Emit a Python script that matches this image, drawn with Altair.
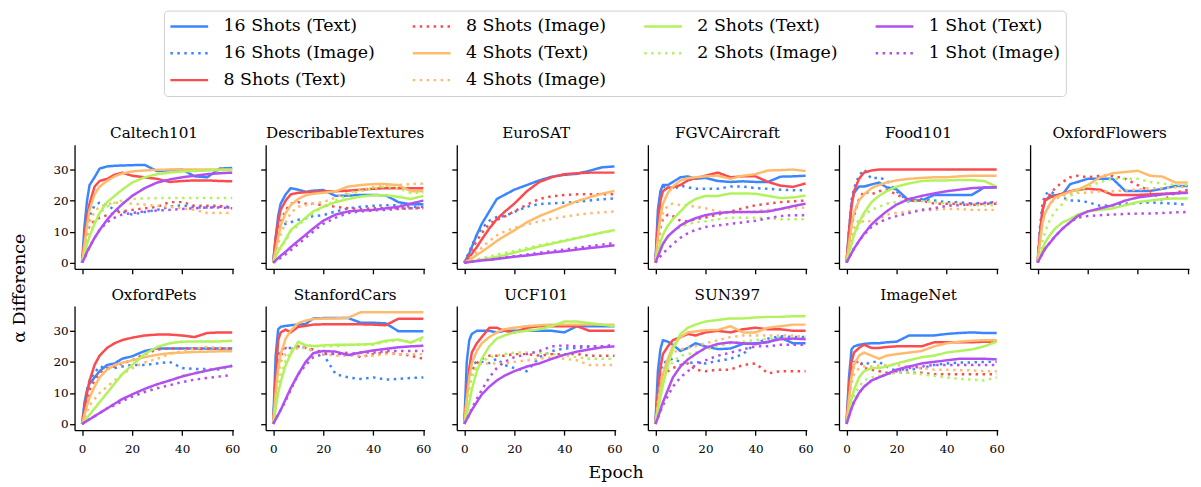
import altair as alt
import pandas as pd

EPOCHS = [0, 1, 2, 3, 5, 7, 10, 13, 16, 20, 25, 30, 35, 40, 45, 50, 55, 60]

SERIES = ["16 Shots (Text)", "16 Shots (Image)", "8 Shots (Text)", "8 Shots (Image)",
          "4 Shots (Text)", "4 Shots (Image)", "2 Shots (Text)", "2 Shots (Image)",
          "1 Shot (Text)", "1 Shot (Image)"]
# order fed to the legend so that its grid reads column-major like the original
LEGEND_ORDER = [SERIES[i] for i in [0, 1, 9, 3, 4, 2, 6, 7, 5, 8]]

SHOT_COLORS = {"16": "#3a86ff", "8": "#fb4b4e", "4": "#ffbb6c", "2": "#b2f35b", "1": "#b24ef2"}

# series order: 16T, 16I, 8T, 8I, 4T, 4I, 2T, 2I, 1T, 1I
CALTECH101 = [
    [0, 12, 20, 25, 27.5, 30.3, 31, 31.2, 31.3, 31.4, 31.5, 29.5, 29.8, 30, 27.8, 27.5, 30.3, 30.5],
    [0, 6, 11, 15, 18.5, 19.3, 18.5, 17, 16.5, 15.5, 16.3, 17, 18, 18.5, 17.8, 17.8, 18, 18],
    [0, 8, 15, 19, 24.5, 26.3, 27, 28.3, 29, 28, 27.5, 27, 26, 26.3, 26.5, 26.5, 26.3, 26.2],
    [0, 5, 9, 12, 13.5, 14.5, 15.3, 16, 16.5, 17, 17.5, 18, 19.5, 19.5, 18.3, 18.3, 18.3, 17.5],
    [0, 6, 12, 17, 22, 24.5, 26.3, 27.8, 28.7, 29.4, 29.7, 29.9, 30, 30, 30, 30, 30, 30],
    [0, 5, 10, 13, 16.5, 18, 18.8, 19.3, 19.3, 19, 18.7, 18.3, 18, 17.5, 17, 16, 16, 16],
    [0, 3, 6, 8.5, 12.5, 16, 19.5, 21.5, 23.5, 25.8, 27.5, 28.5, 29, 29.4, 29.5, 29.7, 29.8, 29.9],
    [0, 3, 6, 9, 13, 16, 18, 19.3, 20, 20.5, 20.7, 20.8, 20.8, 20.8, 20.8, 20.8, 20.8, 20.8],
    [0, 1.5, 3.5, 5, 8, 10.5, 13.8, 16.5, 18.8, 21.5, 24, 25.8, 26.8, 27.5, 28, 28.5, 28.8, 29],
    [0, 1.5, 3.5, 5, 8, 10.5, 13, 14.5, 15.5, 16, 16.5, 16.8, 17, 17.3, 17.5, 17.8, 17.8, 17.5],
]
DESCRIBABLE_TEXTURES = [
    [0, 8, 15, 19, 22, 24, 23.5, 22.8, 23.2, 23.4, 21.5, 21.6, 21.8, 21.8, 21.7, 19.5, 18.8, 18.8],
    [0, 5, 9, 12, 12.5, 13, 13.8, 14.3, 15, 15.3, 16.5, 17.5, 18, 18.3, 18.5, 18.5, 18, 18],
    [0, 8, 13, 17, 20, 22, 22.5, 22.7, 22.8, 23, 23, 23.2, 23.5, 23.8, 24, 24, 24, 24],
    [0, 5, 10, 13, 17, 19, 19.5, 19, 19, 18.5, 18, 17.5, 17.3, 17.5, 17.5, 17.5, 17.5, 17.5],
    [0, 4, 8, 12, 16, 18.5, 20.5, 21.7, 22.2, 22.5, 23, 24.5, 25, 25.3, 25.3, 25, 23, 23],
    [0, 3, 6, 9, 13, 16, 18, 18.5, 19, 19.5, 21, 22.5, 23.5, 24.3, 24.8, 25, 25.3, 25.5],
    [0, 2, 3.5, 5, 7.5, 10.5, 12.5, 14.5, 16.5, 18, 19.5, 20.5, 21.3, 21.7, 21.7, 21.2, 20.5, 21.5],
    [0, 2, 3.5, 5, 7, 10, 12, 14, 16, 18, 20, 22, 23, 24, 24.5, 24, 22.5, 22.5],
    [0, 0.7, 1.5, 2.2, 3.5, 5, 7, 9, 11, 13.5, 15.5, 16.5, 16.8, 17, 17.5, 18, 19, 20],
    [0, 0.5, 1, 1.5, 2.7, 4, 6, 8, 10, 12.5, 14.5, 16, 16.5, 16.8, 17, 17.3, 17.5, 17.8],
]
EUROSAT = [
    [0, 1.5, 3, 5, 9, 12.5, 16.5, 20.5, 21.8, 23.5, 25, 26.5, 27.7, 28.3, 28.6, 29.6, 30.7, 31],
    [0, 1.8, 3.6, 5.4, 9, 11, 13.5, 14.7, 15, 16.3, 18, 18.9, 19.1, 19.3, 19.6, 20, 20.4, 20.7],
    [0, 0.8, 1.8, 2.8, 5, 7.5, 11, 14, 16.3, 19, 23, 26, 27.5, 28.5, 28.8, 29, 29, 29],
    [0, 1.4, 2.8, 4.2, 7, 9.5, 12.5, 13.8, 14.8, 16.5, 18.7, 20.5, 21.4, 21.8, 22, 22, 22, 22],
    [0, 0.4, 0.8, 1.3, 2.5, 3.5, 5.2, 7, 8.5, 10.4, 13, 15, 16.6, 18.2, 19.8, 21, 22.2, 23.1],
    [0, 0.6, 1.3, 2, 3.3, 4.8, 7, 8.8, 10, 11.2, 12.3, 13.3, 14.1, 14.8, 15.4, 15.9, 16.2, 16.5],
    [0, 0.1, 0.3, 0.4, 0.7, 1, 1.4, 1.9, 2.4, 3.2, 4.2, 5.2, 6.1, 7, 7.9, 8.8, 9.7, 10.5],
    [0, 0.2, 0.4, 0.6, 1, 1.4, 2, 2.6, 3.1, 3.8, 4.7, 5.6, 6.4, 7.2, 8, 8.8, 9.6, 10.4],
    [0, 0.1, 0.2, 0.3, 0.5, 0.7, 0.9, 1.2, 1.5, 1.9, 2.3, 2.8, 3.3, 3.7, 4.2, 4.7, 5.1, 5.6],
    [0, 0.1, 0.2, 0.3, 0.5, 0.7, 1, 1.3, 1.7, 2.1, 2.6, 3.2, 3.7, 4.2, 4.8, 5.3, 5.8, 6.3],
]
FGVC_AIRCRAFT = [
    [0, 17, 23, 25, 25, 26, 27.5, 27.8, 27, 27.3, 26.3, 26, 26.2, 26, 26, 27.7, 27.8, 28],
    [0, 14, 22, 24.5, 24, 23.5, 24.8, 24.3, 23.8, 23.8, 23.8, 24.5, 24.5, 24, 23.8, 23.5, 23.3, 23.3],
    [0, 12, 20, 23, 24.2, 24.2, 25, 26.5, 27.2, 28, 29, 27.5, 27.8, 27.8, 26, 24.8, 24.4, 25.5],
    [0, 6, 11, 14, 15.5, 15, 13.5, 13.3, 14, 14.5, 15.5, 16.5, 17.5, 18.5, 19, 19.5, 19.8, 20],
    [0, 8, 15, 19, 22.5, 24.5, 26.5, 27.2, 27.5, 27.8, 28, 27, 28, 28.5, 29.7, 29.8, 30, 29.5],
    [0, 6, 12, 16, 18.5, 19, 18.5, 18.5, 18, 17.5, 16.5, 16, 16.3, 16.5, 17, 17.3, 17.5, 17.8],
    [0, 3, 6.5, 9, 12, 14, 16.5, 19, 20.5, 21.5, 21.5, 22.3, 22.3, 22.2, 21.5, 20.8, 21, 21.6],
    [0, 2, 4, 6, 8, 10, 11.5, 12.5, 13, 13.3, 14, 14.5, 14.5, 14.5, 14.3, 14, 14, 14],
    [0, 2, 4, 6, 8.5, 10, 12, 13.3, 14.3, 15.3, 16, 16.3, 16.3, 16.3, 16.5, 17.3, 18.2, 19],
    [0, 1, 2, 3, 4.5, 6, 8, 9.5, 10.5, 11.5, 12, 12.5, 13, 13.5, 14.3, 15, 15.3, 15.3],
]
FOOD101 = [
    [0, 10, 19, 22.5, 24.5, 24.5, 25.2, 25.8, 24.3, 23.6, 20, 20, 21.8, 21.8, 21.8, 21.8, 24.2, 24.2],
    [0, 10, 20, 24, 28, 30, 27, 27.5, 26.5, 23, 19.5, 20.5, 20, 19.5, 19.5, 19, 19, 19.5],
    [0, 10, 18, 23, 27, 29, 29.7, 30, 30, 30, 30, 30, 30, 30, 30, 30, 30, 30],
    [0, 6, 12, 15, 20.5, 23, 22, 23, 23.5, 22, 20, 20, 19, 19, 19, 18.5, 19, 19],
    [0, 6, 12, 16, 20, 22, 24, 25, 25.8, 26.5, 27, 27.3, 27.5, 27.5, 27.8, 28, 28, 28],
    [0, 4, 8, 11, 14, 13, 13.5, 14, 15.5, 16, 16.5, 16.8, 17, 17.3, 17.3, 17, 17, 17],
    [0, 3, 6, 9, 13, 16, 19.5, 21.5, 23, 24.5, 25.5, 26.3, 26.5, 26.5, 26.6, 26.6, 26.3, 24.5],
    [0, 3, 6, 9, 12, 15.5, 17, 18, 19, 19.5, 19.8, 19.8, 19.5, 19, 18.7, 18.5, 18.5, 18.5],
    [0, 1.5, 3, 4.5, 7, 9.3, 12.3, 14.5, 16.5, 18.7, 20.5, 21.5, 22.3, 23, 23.5, 24, 24.2, 24.3],
    [0, 1.5, 3, 4.5, 7, 9, 11.5, 13, 14, 15, 16, 17, 17.5, 18.3, 18.5, 19, 19.3, 19.5],
]
OXFORD_FLOWERS = [
    [0, 10, 17, 20, 21.5, 21.7, 22, 25.3, 26, 27, 27, 27, 23.1, 23.1, 23.1, 23.8, 24.7, 24.7],
    [0, 12, 19, 22, 23, 22, 21, 20, 20, 19.5, 18.3, 18.5, 19, 19.2, 19.4, 19.2, 19, 18.6],
    [0, 10, 17, 20, 21, 21.5, 22.3, 23, 23.5, 23.8, 23.5, 21.8, 21.8, 21.8, 22, 22.2, 22.4, 22.6],
    [0, 10, 18, 21, 22, 24, 26, 27.5, 28, 27.5, 28, 28, 27, 25, 23, 20, 22.5, 23.5],
    [0, 7, 13, 16, 19, 21, 22, 22.8, 23.5, 25, 27.5, 28.8, 29.2, 29.6, 28, 27.7, 25.8, 25.8],
    [0, 7, 13, 16, 19, 20.5, 21.5, 22, 22.5, 22.5, 23, 23, 23.3, 23.5, 24, 24, 24.3, 24.5],
    [0, 2, 4.5, 6.5, 9, 11, 13, 14, 15.5, 16.5, 17, 17.5, 18.5, 19.5, 20, 20.5, 20.7, 20.7],
    [0, 3, 7, 10, 14, 16.5, 19, 21.5, 23, 24.5, 26, 27, 27, 27, 26, 25.5, 25, 25],
    [0, 1.5, 3, 4.5, 6.5, 8.5, 11, 13, 15, 16.5, 17.5, 18.5, 20, 21, 21.5, 22, 22.3, 22.5],
    [0, 1.5, 3, 4.5, 6.5, 8.5, 11, 13, 14.5, 15, 15.3, 15.5, 15.7, 15.8, 15.8, 16, 16.2, 16.3],
]
OXFORD_PETS = [
    [0, 7, 11, 13, 15, 17, 19, 19.5, 21, 21.8, 23.5, 24.3, 24.3, 24.3, 24.3, 24.3, 24.3, 24.3],
    [0, 6, 11, 14, 16.5, 18.5, 18, 18, 18.5, 19, 19, 19.5, 20, 18, 17.7, 17.7, 17.5, 18.8],
    [0, 5, 10, 14, 19, 22, 24.5, 26, 27, 27.8, 28.5, 28.8, 28.8, 28.5, 28, 29.3, 29.5, 29.5],
    [0, 4, 8, 11, 14, 16.5, 18, 18.5, 19.5, 20.5, 22.5, 24, 24.3, 24.3, 24.3, 24.2, 24.3, 24.3],
    [0, 3, 6, 8.5, 12, 15, 17.5, 19, 19.7, 20.5, 21.5, 22.3, 22.8, 23, 23.2, 23.3, 23.4, 23.4],
    [0, 2, 4, 6, 8, 10, 12, 14, 16, 18, 19.8, 21, 22.5, 23.5, 24.3, 24.8, 24.5, 24.3],
    [0, 1, 2, 3, 5, 7, 10, 13, 16, 19, 22.5, 24.8, 26, 26.5, 26.6, 26.6, 26.6, 26.8],
    [0, 0.5, 1, 1.5, 2.5, 3.5, 5, 6.5, 8, 9.5, 11, 12.5, 14, 15.5, 16.5, 17.3, 18, 18.5],
    [0, 0.5, 1, 1.5, 2.5, 3.5, 5, 6.5, 8, 9.5, 11.3, 12.8, 14, 15.3, 16.3, 17.2, 18, 18.7],
    [0, 0.5, 1, 1.5, 2.5, 3.5, 5, 6, 7.3, 8.8, 10.3, 11.5, 12.5, 13.5, 14.3, 14.8, 15.3, 15.8],
]
STANFORD_CARS = [
    [0, 22, 30.5, 31.3, 31.6, 31.8, 32, 32.2, 34, 34.1, 34.1, 34.1, 32.6, 32.6, 32.4, 29.9, 29.9, 29.9],
    [0, 15, 22, 24, 24.5, 24.5, 24.8, 24.5, 23.5, 22.5, 16, 15, 14.5, 15, 14.3, 14.5, 14.8, 15],
    [0, 15, 27, 29.5, 30.4, 29.5, 31.3, 31.6, 32, 32.1, 32.1, 32.1, 32.1, 32, 31.8, 33.9, 33.9, 33.9],
    [0, 10, 18, 22, 24.5, 24, 25, 24.5, 24, 23, 22.5, 23, 21.5, 22.5, 23, 22.5, 22, 21],
    [0, 10, 18, 22.5, 27.5, 30, 32.5, 33.3, 33.8, 34, 34, 34.2, 36, 36, 36, 36, 36, 36],
    [0, 8, 16, 20, 22.5, 23, 24.5, 24.5, 23.5, 22.5, 22, 22, 22, 22, 22.5, 22.5, 22.5, 22.5],
    [0, 5, 10, 13.5, 19, 22.5, 26.5, 25.3, 25.1, 25.3, 25.5, 25.5, 25.6, 25.8, 26.8, 27.2, 26.2, 28],
    [0, 6, 12, 16, 20.5, 23.5, 26, 25.5, 25, 25, 25, 25.5, 25.5, 25.5, 26.5, 27, 26.5, 27],
    [0, 1.5, 3, 4.5, 8, 11.5, 16, 20, 22.8, 23.5, 23.3, 22.2, 23, 23.7, 24.2, 24.7, 25, 25.2],
    [0, 1.5, 3, 4.5, 7.5, 11, 16, 19, 21.5, 22.5, 22.5, 22.5, 23, 23, 23.5, 23.5, 23.5, 23.5],
]
UCF101 = [
    [0, 20, 27, 29, 30, 30, 30, 29.5, 30, 30, 30, 30, 30, 29.5, 31.5, 31.5, 31.5, 31.5],
    [0, 8, 15, 19, 20, 20, 19.6, 21, 19, 18, 17, 21.5, 23.5, 24.3, 24.5, 24.8, 25, 25],
    [0, 10, 18, 23, 26, 28, 31, 31, 30, 29.5, 31, 31.5, 31.5, 31.5, 31.5, 30, 30, 30],
    [0, 8, 14, 17, 19.5, 21, 22, 22, 22, 22.5, 22.5, 22, 22.5, 22.5, 22.5, 22, 22, 22],
    [0, 8, 15, 19.5, 23.5, 26, 28, 29.5, 30.5, 31, 31.5, 31.8, 32, 32, 32, 32, 32, 32],
    [0, 7, 13, 16, 18.5, 19.5, 19.5, 19.5, 19.5, 20, 20.5, 21, 21.5, 21, 20.5, 19, 19, 19],
    [0, 3, 7, 11, 17, 21, 25, 27.5, 28.5, 29.5, 30, 30.5, 31.5, 33, 33, 32.5, 32, 31.5],
    [0, 6, 11, 15, 18.5, 20, 21.5, 22, 22.5, 23, 23, 23, 22.5, 22, 21.5, 21, 21, 21],
    [0, 1.5, 3, 4.5, 7, 9.5, 12, 14, 15.5, 17, 18.5, 19.5, 21, 22.3, 23.3, 24, 24.7, 25],
    [0, 1.5, 3, 5, 8, 11, 15, 18, 20, 21.5, 22.5, 23.5, 25, 25.3, 25, 25, 25, 25.5],
]
SUN397 = [
    [0, 17, 24, 27, 26.5, 25.5, 23.5, 24.5, 26, 25, 24.1, 24.3, 25.8, 26, 26.3, 27.8, 26, 26],
    [0, 10, 17, 19.5, 20.5, 21, 20, 19.5, 20, 19.5, 20.3, 21, 22.5, 26, 27.5, 28.3, 28, 28],
    [0, 10, 18, 22.5, 25, 27, 28, 29, 28.5, 29.5, 30, 29.5, 30.5, 31, 30.5, 30.5, 30, 30],
    [0, 8, 14, 16, 17, 18, 19, 19.5, 17.5, 17, 17.5, 17.5, 19, 19.5, 16.3, 17, 17, 17],
    [0, 6, 12, 16, 21, 25, 28, 29.5, 29.8, 30.2, 30.3, 31.5, 29.5, 29.5, 31, 31.5, 32, 32],
    [0, 7, 13, 17, 21, 23, 24, 24.5, 25, 26, 27, 28, 28.5, 28.5, 28.5, 28.5, 28.5, 28],
    [0, 4, 8.5, 12.5, 19, 24, 29, 31, 32, 33, 33.5, 34, 34, 34.3, 34.5, 34.5, 34.7, 34.7],
    [0, 5, 10, 14, 18, 20, 22, 22.5, 23, 24, 25, 26, 26.5, 27, 27.5, 27.5, 27.5, 27.5],
    [0, 2, 4.5, 7, 11, 15, 18.5, 20.8, 22.5, 24.5, 25.8, 26.3, 26, 25.7, 26.5, 27.3, 27.5, 27.3],
    [0, 2, 4, 6, 9, 12, 15, 17, 19, 20.5, 22, 23, 24, 25, 25, 25.5, 25.5, 25.5],
]
IMAGENET = [
    [0, 15, 24, 25, 25.5, 25.8, 26, 26, 26.3, 26.5, 28.5, 28.5, 28.5, 29, 29.3, 29.5, 29.3, 29.3],
    [0, 10, 17, 20, 20, 19, 20, 20, 18.5, 17, 17.5, 18, 19, 19.5, 19.8, 19.8, 20, 20],
    [0, 12, 20, 23, 24.5, 25.5, 24.5, 24.5, 24.8, 25, 25, 25, 26.3, 26.3, 26.3, 26.3, 26.5, 26.5],
    [0, 8, 15, 19, 20.5, 18, 17.5, 17, 16.5, 16.5, 16.5, 16.5, 16, 16, 16, 16, 16, 16],
    [0, 8, 15, 19, 22, 23, 22, 21, 22, 22.5, 23, 23.5, 25, 26, 26.5, 26.8, 27, 27],
    [0, 7, 13, 16, 18, 18.5, 18.5, 18.8, 19, 19, 18.5, 18, 17.5, 17.5, 17.3, 17.3, 17, 17],
    [0, 4, 8, 11, 15, 17, 18, 18, 18.5, 19.5, 20.5, 21.5, 22, 23, 23.5, 24, 25, 26.5],
    [0, 3, 6, 9, 12, 14, 15, 15.5, 16, 16.5, 16.5, 16, 15.5, 15, 14.5, 14.3, 14, 15],
    [0, 2.5, 5, 7, 10, 12, 14, 15, 16, 17.5, 18.5, 19.5, 20, 20.5, 21, 21, 21, 20.8],
    [0, 2.5, 5, 7, 10, 12, 14, 15, 16, 17, 18, 18.5, 19, 19, 19, 19, 19, 19],
]

DATASETS = [
    ("Caltech101", CALTECH101), ("DescribableTextures", DESCRIBABLE_TEXTURES),
    ("EuroSAT", EUROSAT), ("FGVCAircraft", FGVC_AIRCRAFT), ("Food101", FOOD101),
    ("OxfordFlowers", OXFORD_FLOWERS), ("OxfordPets", OXFORD_PETS),
    ("StanfordCars", STANFORD_CARS), ("UCF101", UCF101), ("SUN397", SUN397),
    ("ImageNet", IMAGENET),
]

FONT = "DejaVu Serif"
W, H = 160, 125
DOT = [2.5, 4.5]


def color_of(s):
    return SHOT_COLORS[s.split(" ")[0]]


def dash_of(s):
    return DOT if "Image" in s else [1, 0]


LEGEND = alt.Legend(
    orient="none", legendX=90, legendY=-135, columns=4, title=None,
    symbolType="stroke", symbolSize=1444, symbolStrokeWidth=2.5, clipHeight=22,
    labelFont=FONT, labelFontSize=17.5, labelColor="black", labelOffset=14,
    labelLimit=400, columnPadding=36, rowPadding=5, padding=5,
    strokeColor="#d0d0d0", fillColor="white", cornerRadius=4,
)


def panel(idx, name, values):
    col = idx % 6
    row = idx // 6
    rows = []
    for s, vals in zip(SERIES, values):
        for e, v in zip(EPOCHS, vals):
            rows.append({"epoch": e, "value": v, "series": s})
    df = pd.DataFrame(rows)

    xkw = dict(values=[0, 20, 40, 60], labels=(row == 1), tickSize=5, labelPadding=8,
               title=None, grid=False)
    if name == "UCF101":
        xkw.update(title="Epoch", titleX=160, titleY=43, titleAlign="center",
                   titleBaseline="middle", titleFont=FONT, titleFontSize=17.5,
                   titleFontWeight="normal", titleColor="black")
    ykw = dict(values=[0, 10, 20, 30], labels=(col == 0), tickSize=5, labelPadding=1.5,
               title=None, grid=False)
    if name == "Caltech101":
        ykw.update(title="α Difference", titleX=-55, titleY=144, titleAngle=270,
                   titleAlign="center", titleBaseline="middle", titleFont=FONT,
                   titleFontSize=17.5, titleFontWeight="normal", titleColor="black")

    return (
        alt.Chart(df, title=alt.TitleParams(name, font=FONT, fontSize=15.3,
                                            fontWeight="normal", color="black", offset=3))
        .mark_line(strokeWidth=2.5, strokeCap="butt", strokeJoin="round")
        .encode(
            x=alt.X("epoch:Q", scale=alt.Scale(domain=[-3, 60.5], nice=False, zero=False),
                    axis=alt.Axis(**xkw)),
            y=alt.Y("value:Q", scale=alt.Scale(domain=[-2, 38], nice=False, zero=False),
                    axis=alt.Axis(**ykw)),
            color=alt.Color("series:N", legend=LEGEND,
                            scale=alt.Scale(domain=LEGEND_ORDER,
                                            range=[color_of(s) for s in LEGEND_ORDER])),
            strokeDash=alt.StrokeDash("series:N", legend=LEGEND,
                                      scale=alt.Scale(domain=LEGEND_ORDER,
                                                      range=[dash_of(s) for s in LEGEND_ORDER])),
        )
        .properties(width=W, height=H)
    )


panels = [panel(i, n, v) for i, (n, v) in enumerate(DATASETS)]
chart = (
    alt.concat(*panels, columns=6, spacing={"row": 37.4, "column": 32.4}, bounds="flush")
    .properties(padding={"left": 3, "top": 0, "right": 4, "bottom": 4})
    .configure_view(stroke=None)
    .configure_axis(domainColor="black", domainWidth=1.3, tickColor="black", tickWidth=1.3,
                    labelFont=FONT, labelFontSize=12, labelColor="black")
)

chart.save("out.html", embed_options={"renderer": "svg", "actions": False})
